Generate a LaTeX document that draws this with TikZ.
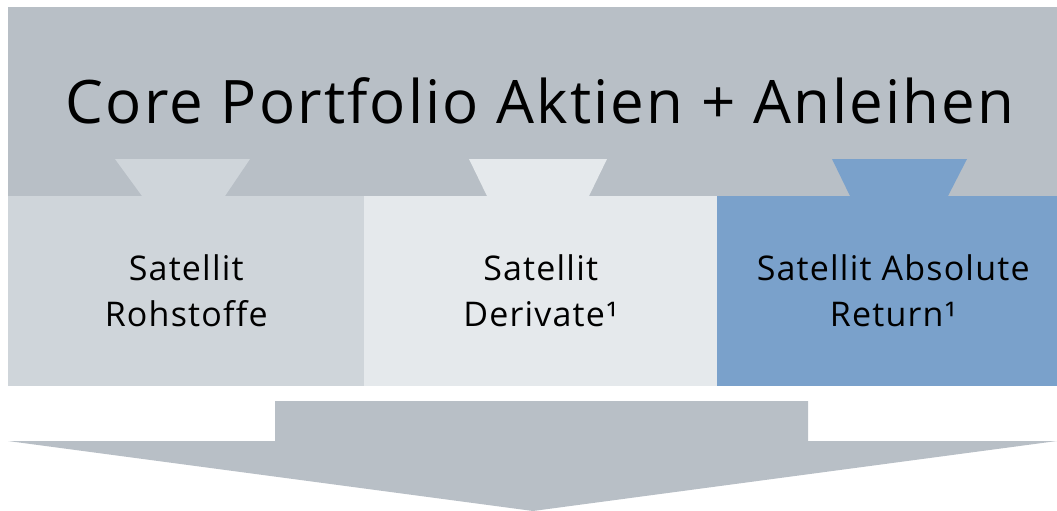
\documentclass[tikz,border=0pt]{standalone}
\usepackage{fontspec}
\setmainfont[Ligatures={NoCommon},LetterSpace=3.5]{Open Sans}
\definecolor{coregray}{HTML}{B8BFC6}
\definecolor{satone}{HTML}{CFD5DA}
\definecolor{sattwo}{HTML}{E5E9EC}
\definecolor{satthree}{HTML}{7AA1CB}
\tikzset{
  satbox/.style={rectangle,inner sep=0pt,anchor=north west,minimum height=190pt},
  sattext/.style={align=center,font=\fontsize{34}{46}\selectfont},
}

\begin{document}
\begin{tikzpicture}[x=1pt,y=-1pt]
    \useasboundingbox (0,0) rectangle (1057,511);
    % core block
    \node[fill=coregray,inner sep=0pt,anchor=north west,minimum width=1049pt,minimum height=189pt] (core) at (8,7) {};
    \node[font=\fontsize{60}{62}\selectfont,anchor=base] (coretext) at (540,123) {Core Portfolio Aktien + Anleihen};
    % satellites
    \node[satbox,fill=satone,minimum width=356pt] (rohstoffe) at (8,196) {};
    \node[satbox,fill=sattwo,minimum width=353pt] (derivate) at (364,196) {};
    \node[satbox,fill=satthree,minimum width=340pt] (absolute) at (717,196) {};
    \fill[satone] (115,159) -- (250,159) -- (225,196) -- (142,196) -- cycle;
    \fill[sattwo] (469,159) -- (607,159) -- (589,196) -- (487,196) -- cycle;
    \fill[satthree] (832,159) -- (967,159) -- (948,196) -- (850,196) -- cycle;
    \node[sattext] (rohstofftext) at (rohstoffe.center) {Satellit\\Rohstoffe};
    \node[sattext] (derivattext) at (derivate.center) {Satellit\\Derivate¹};
    \node[sattext] (absoluttext) at ([xshift=6pt]absolute.center) {Satellit Absolute\\Return¹};
    % big arrow
    \fill[coregray] (275,401) -- (808,401) -- (808,441) -- (1057,441) -- (533,511) -- (8,441) -- (275,441) -- cycle;
  \end{tikzpicture}
\end{document}
